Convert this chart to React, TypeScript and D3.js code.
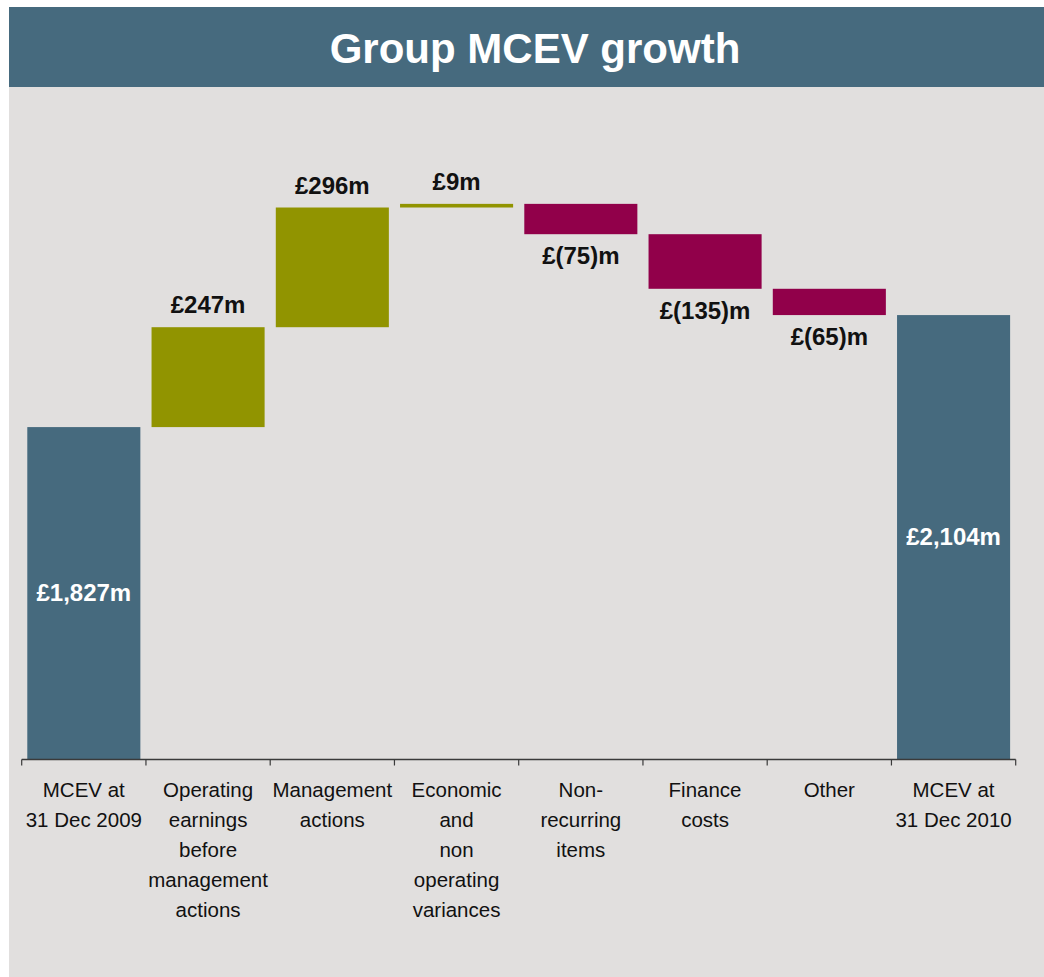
import React from "react";
import * as d3 from "d3";

// waterfall data, £m
const categories = [
  "MCEV at 31 Dec 2009",
  "Operating earnings before management actions",
  "Management actions",
  "Economic and non operating variances",
  "Non-recurring items",
  "Finance costs",
  "Other",
  "MCEV at 31 Dec 2010",
];
const categoryLines = [
  ["MCEV at", "31 Dec 2009"],
  ["Operating", "earnings", "before", "management", "actions"],
  ["Management", "actions"],
  ["Economic", "and", "non", "operating", "variances"],
  ["Non-", "recurring", "items"],
  ["Finance", "costs"],
  ["Other"],
  ["MCEV at", "31 Dec 2010"],
];
// totals are null for step bars, steps null for totals
const totals = [1827, null, null, null, null, null, null, 2104];
const steps = [null, 247, 296, 9, -75, -135, -65, null];
const valueLabels = ["£1,827m", "£247m", "£296m", "£9m", "£(75)m", "£(135)m", "£(65)m", "£2,104m"];

const W = 1044;
const H = 977;
const BLUE = "#466a7e";
const OLIVE = "#919400";
const PLUM = "#91004a";
const BG = "#e1dfde";
const FONT = "'Liberation Sans', Arial, sans-serif";

export default function App() {
  const axisY = 759.5;
  const x = d3.scaleBand<string>()
    .domain(categories)
    .range([21.7, 1015.7])
    .paddingInner(0.09)
    .paddingOuter(0.045);
  // value axis is cut off (Excel-style), starts near 1,005
  const y = d3.scaleLinear().domain([1005, 2668]).range([axisY, 87]);

  let running = 0;
  const bars = categories.map((c, i) => {
    const t = totals[i];
    if (t != null) {
      running = t;
      return { c, i, kind: "total", y0: y.domain()[0], y1: t, delta: t };
    }
    const d = steps[i] as number;
    const from = running;
    running += d;
    return { c, i, kind: d >= 0 ? "up" : "down", y0: from, y1: running, delta: d };
  });

  const step = x.step();
  const ticks = d3.range(categories.length + 1).map((k) => 21.7 + k * step);

  return (
    <div style={{ position: "absolute", left: 0, top: 0 }}>
      <svg width={W} height={H} style={{ display: "block" }}>
        <rect x={0} y={0} width={W} height={H} fill="#ffffff" />
        <rect x={9} y={87} width={W - 9} height={H - 87} fill={BG} />
        <rect x={9} y={7} width={W - 9} height={80} fill={BLUE} />
        <text
          x={535}
          y={63}
          textAnchor="middle"
          fill="#ffffff"
          fontFamily={FONT}
          fontWeight="bold"
          fontSize={42}
        >
          Group MCEV growth
        </text>

        {bars.map((b) => {
          const top = y(Math.max(b.y0, b.y1));
          const bottom = y(Math.min(b.y0, b.y1));
          const fill = b.kind === "total" ? BLUE : b.kind === "up" ? OLIVE : PLUM;
          return (
            <rect
              key={b.c}
              x={x(b.c)}
              y={top}
              width={x.bandwidth()}
              height={Math.max(bottom - top, 1)}
              fill={fill}
            />
          );
        })}

        {bars.map((b) => {
          const cx = (x(b.c) as number) + x.bandwidth() / 2;
          const top = y(Math.max(b.y0, b.y1));
          const bottom = y(Math.min(b.y0, b.y1));
          let ty = 0;
          let color = "#111111";
          if (b.kind === "total") {
            ty = (top + bottom) / 2 + 8;
            color = "#ffffff";
          } else if (b.kind === "up") {
            ty = top - 14;
          } else {
            ty = bottom + 30;
          }
          return (
            <text
              key={"l" + b.c}
              x={cx}
              y={ty}
              textAnchor="middle"
              fill={color}
              fontFamily={FONT}
              fontWeight="bold"
              fontSize={24}
            >
              {valueLabels[b.i]}
            </text>
          );
        })}

        <line x1={21.7} x2={1015.7} y1={axisY} y2={axisY} stroke="#3a3a3a" strokeWidth={1.5} />
        {ticks.map((tx, k) => (
          <line key={k} x1={tx} x2={tx} y1={axisY} y2={axisY + 6} stroke="#3a3a3a" strokeWidth={1.2} />
        ))}

        {categories.map((c, i) => (
          <text
            key={"c" + c}
            x={(x(c) as number) + x.bandwidth() / 2}
            y={796.7}
            textAnchor="middle"
            fill="#111111"
            fontFamily={FONT}
            fontSize={20.5}
          >
            {categoryLines[i].map((line, j) => (
              <tspan key={j} x={(x(c) as number) + x.bandwidth() / 2} dy={j === 0 ? 0 : 30}>
                {line}
              </tspan>
            ))}
          </text>
        ))}
      </svg>
    </div>
  );
}
